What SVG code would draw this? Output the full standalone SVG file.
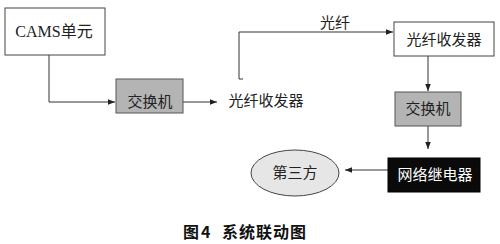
<svg xmlns="http://www.w3.org/2000/svg" width="500" height="244" viewBox="0 0 500 244">
<style>
text{font-family:"Noto Sans CJK SC","Liberation Serif",sans-serif;font-size:15px;text-anchor:middle;fill:#222}
.lat{font-family:"Liberation Serif","Noto Sans CJK SC",serif}
.box{fill:#fff;stroke:#444;stroke-width:1}
.gray{fill:#b4b4b4;stroke:#555;stroke-width:1}
.blk{fill:#0a0a0a;stroke:#000}
.conn{fill:none;stroke:#333;stroke-width:1}
.cap{font-size:16px;font-weight:bold;fill:#111;text-anchor:start}
</style>
<defs>
<marker id="ah" viewBox="0 0 10 10" refX="10" refY="5" markerWidth="7" markerHeight="7" orient="auto" markerUnits="userSpaceOnUse">
<path d="M0,1 L10,5 L0,9 z" fill="#222"/>
</marker>
</defs>
<rect width="500" height="244" fill="#fff"/>
<g id="connectors">
<path class="conn" d="M49,55 V102 H115" marker-end="url(#ah)"/>
<path class="conn" d="M183,102 H217" marker-end="url(#ah)"/>
<path class="conn" d="M243,79 H239 V32 H393" marker-end="url(#ah)"/>
<path class="conn" d="M428,56 V91" marker-end="url(#ah)"/>
<path class="conn" d="M428,126 V149" marker-end="url(#ah)"/>
<path class="conn" d="M388,170 H345" marker-end="url(#ah)"/>
<text x="335" y="28">光纤</text>
</g>
<g id="cams">
<rect class="box" x="5" y="8" width="100" height="47"/>
<text x="54" y="37" class="lat" style="font-size:16px">CAMS<tspan style="font-family:'Noto Sans CJK SC',serif">单元</tspan></text>
</g>
<g id="switch1">
<rect class="gray" x="116" y="79" width="67" height="34"/>
<text x="150" y="107">交换机</text>
</g>
<g id="transceiver1">
<text x="266" y="106">光纤收发器</text>
</g>
<g id="transceiver2">
<rect class="box" x="394" y="22" width="100" height="34"/>
<text x="444" y="45">光纤收发器</text>
</g>
<g id="switch2">
<rect class="gray" x="395" y="92" width="66" height="34"/>
<text x="428" y="114">交换机</text>
</g>
<g id="relay">
<rect class="blk" x="388" y="158" width="92" height="34"/>
<text x="435" y="180" style="fill:#fff">网络继电器</text>
</g>
<g id="third">
<ellipse cx="295" cy="173" rx="44" ry="23" fill="#e6e6e6" stroke="#444"/>
<text x="295" y="178">第三方</text>
</g>
<g id="caption">
<text class="cap" y="238"><tspan x="183">图</tspan><tspan x="201">4</tspan><tspan x="222" letter-spacing="1">系统联动图</tspan></text>
</g>
</svg>
